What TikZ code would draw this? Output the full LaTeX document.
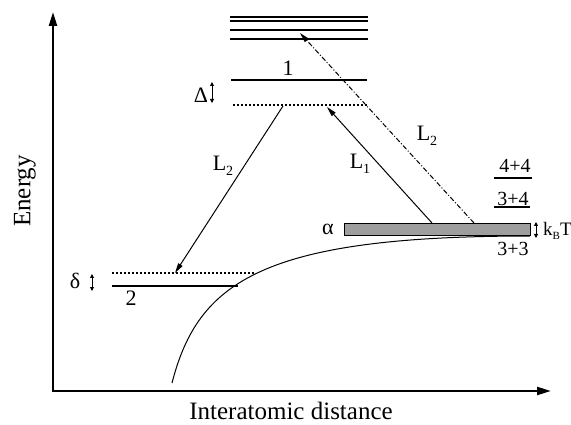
\documentclass[tikz,border=0pt]{standalone}
\usepackage{fontspec}
\setmainfont{Liberation Serif}
\usetikzlibrary{arrows.meta}
\begin{document}
\begin{tikzpicture}[x=1pt,y=-1pt,
  axis/.style={line width=2.4pt,-{Triangle[length=14pt,width=8pt]}},
  level/.style={line width=1.1pt},
  dotlevel/.style={line width=1.1pt,dash pattern=on 2pt off 2pt},
  trans/.style={line width=1pt,-{Triangle[length=10pt,width=5pt]}},
  dashdot/.style={line width=1pt,dash pattern=on 5pt off 2pt on 1pt off 2pt,-{Triangle[length=10pt,width=5pt]}},
  gap/.style={line width=1pt,{Triangle[length=4pt,width=4pt]}-{Triangle[length=4pt,width=4pt]}},
  lbl/.style={inner sep=0pt,font=\fontsize{20}{24}\selectfont},
  llbl/.style={inner sep=0pt,font=\fontsize{22}{26}\selectfont},
  big/.style={inner sep=0pt,font=\fontsize{25}{30}\selectfont}]
\useasboundingbox (0,0) rectangle (571,425);
% axes
\coordinate (O) at (53,391);
\coordinate (ytop) at (53,12);
\coordinate (xend) at (551,391);
\draw[axis] (O) -- (ytop);
\draw[axis] ([xshift=-1.2pt]O) -- (xend);
\node[big,rotate=90] (energy) at (25,191) {Energy};
\node[big] (dist) at (291,411) {Interatomic distance};
% upper levels
\foreach \yy/\nm in {17/ua,21/ub,30/uc,39/ud}{
  \coordinate (\nm l) at (230,\yy); \coordinate (\nm r) at (368,\yy);
  \draw[level] (\nm l) -- (\nm r);}
\coordinate (l1l) at (231,80); \coordinate (l1r) at (367,80);
\draw[level] (l1l) -- (l1r);
\node[llbl] (one) at (288,68) {1};
\coordinate (d1l) at (233,105); \coordinate (d1r) at (367,105);
\draw[dotlevel] (d1l) -- (d1r);
\node[llbl] (Delta) at (201,95) {Δ};
\coordinate (Da) at (212,82); \coordinate (Db) at (212,103);
\draw[gap] (Da) -- (Db);
% lower levels
\coordinate (d2l) at (112,273); \coordinate (d2r) at (255,273);
\draw[dotlevel] (d2l) -- (d2r);
\coordinate (l2l) at (112,286); \coordinate (l2r) at (238,286);
\draw[level] (l2l) -- (l2r);
\node[llbl] (two) at (131,298) {2};
\node[llbl] (delta) at (75,281) {δ};
\coordinate (da) at (92,274); \coordinate (db) at (92,291);
\draw[gap] (da) -- (db);
% potential curve
\coordinate (c0) at (172,383);
\coordinate (c1) at (530,236);
\draw[line width=1pt] (c0) .. controls (198,282) and (262,236) .. (c1);
% band alpha
\node[draw,line width=0.8pt,fill=black!38,minimum width=186pt,minimum height=12pt,inner sep=0pt,anchor=north west] (band) at (344,223) {};
\node[llbl] (alpha) at (328,229) {α};
\coordinate (ka) at (536,222); \coordinate (kb) at (536,238);
\draw[gap] (ka) -- (kb);
\node[inner sep=0pt,font=\fontsize{19}{22}\selectfont,anchor=base west] (kbt) at (543,236) {k\raisebox{-4pt}{\fontsize{11}{13}\selectfont B}T};
\node[lbl] (s33) at (513,249) {3+3};
\node[lbl] (s34) at (513,199) {3+4};
\coordinate (s34l) at (494,207); \coordinate (s34r) at (530,207);
\draw[level] (s34l) -- (s34r);
\node[lbl] (s44) at (515,166) {4+4};
\coordinate (s44l) at (494,178); \coordinate (s44r) at (532,178);
\draw[level] (s44l) -- (s44r);
% transitions
\coordinate (L2s) at (283,106); \coordinate (L2e) at (175,273);
\draw[trans] (L2s) -- (L2e);
\node[llbl] (L2a) at (223,166) {L\raisebox{-5pt}{\fontsize{14}{16}\selectfont 2}};
\coordinate (L1s) at (432,223); \coordinate (L1e) at (327,107);
\draw[trans] (L1s) -- (L1e);
\node[llbl] (L1a) at (360,164) {L\raisebox{-5pt}{\fontsize{14}{16}\selectfont 1}};
\coordinate (L3s) at (474,223); \coordinate (L3e) at (300,33);
\draw[dashdot] (L3s) -- (L3e);
\node[llbl] (L2b) at (427,136) {L\raisebox{-5pt}{\fontsize{14}{16}\selectfont 2}};
\end{tikzpicture}
\end{document}
